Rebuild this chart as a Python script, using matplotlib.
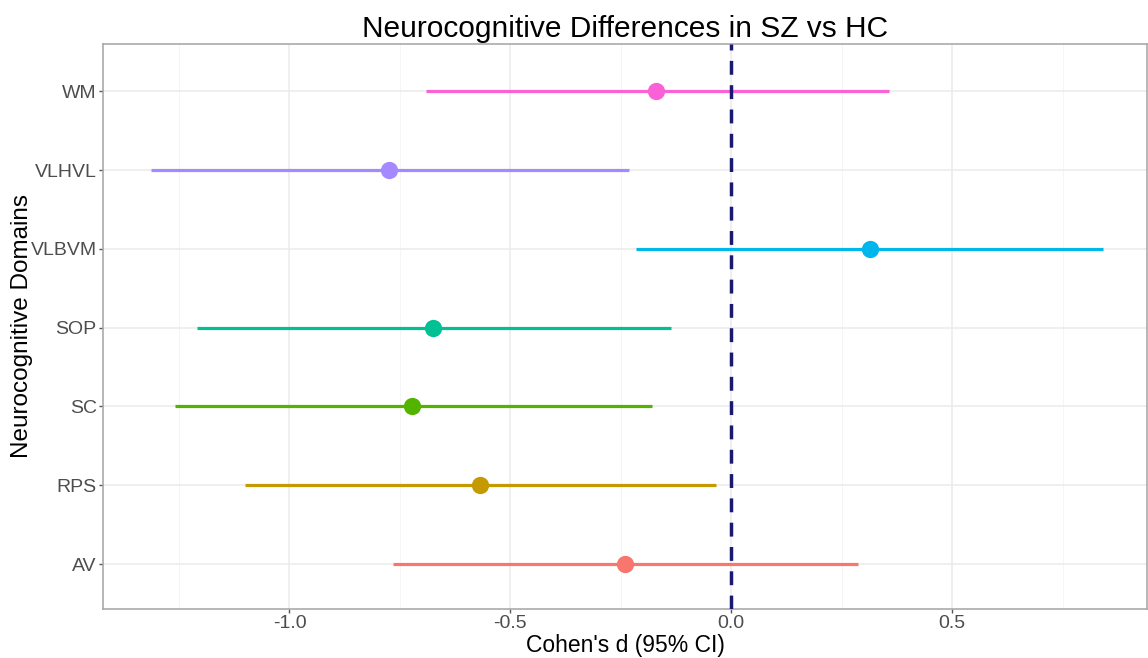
import numpy as np
import matplotlib
matplotlib.use("Agg")
import matplotlib.pyplot as plt
from matplotlib.ticker import MultipleLocator

plt.rcParams['font.family'] = ['Liberation Sans', 'DejaVu Sans']

domains = ["AV", "RPS", "SC", "SOP", "VLBVM", "VLHVL", "WM"]
cohens_d = [-0.240, -0.568, -0.722, -0.676, 0.314, -0.774, -0.170]
ci_low = [-0.765, -1.100, -1.258, -1.210, -0.215, -1.314, -0.692]
ci_high = [0.287, -0.034, -0.179, -0.136, 0.842, -0.231, 0.357]
colors = ["#F8766D", "#C49A00", "#53B400", "#00C094", "#00B6EB", "#A58AFF", "#FB61D7"]

fig = plt.figure(figsize=(11.48, 6.58), dpi=100)
ax = fig.add_axes([103 / 1148, 1 - 609 / 658, (1147 - 103) / 1148, (609 - 44) / 658])

ypos = np.arange(1, len(domains) + 1)
for y, d, lo, hi, c in zip(ypos, cohens_d, ci_low, ci_high, colors):
    ax.plot([lo, hi], [y, y], color=c, lw=2.3, solid_capstyle='butt', zorder=3)
    ax.scatter([d], [y], s=155, color=c, zorder=4, linewidths=0)

ax.axvline(0, color="#191970", lw=2.5, ls=(0, (4, 3)), zorder=5)

ax.set_xlim(-1.422, 0.941)
ax.set_ylim(0.43, 7.6)
ax.set_yticks(ypos)
ax.set_yticklabels(domains)
ax.xaxis.set_minor_locator(MultipleLocator(0.25))
ax.set_xticks([-1.0, -0.5, 0.0, 0.5])
ax.set_xticklabels(["-1.0", "-0.5", "0.0", "0.5"])

ax.grid(True, which='major', color="#EBEBEB", lw=1.1, zorder=0)
ax.grid(True, which='minor', axis='x', color="#F4F4F4", lw=0.6, zorder=0)
ax.set_axisbelow(True)
for s in ax.spines.values():
    s.set_color("#AAAAAA")
    s.set_linewidth(1.2)

ax.tick_params(axis='both', which='major', colors="#555555", labelsize=14, length=3, width=1, pad=1.5)
ax.tick_params(axis='both', which='minor', length=0)
for lab in ax.get_xticklabels() + ax.get_yticklabels():
    lab.set_color("#4D4D4D")

ax.set_xlabel("Cohen's d (95% CI)", fontsize=16.5, labelpad=1)
ax.set_ylabel("Neurocognitive Domains", fontsize=17.5)
ax.yaxis.set_label_coords(-0.0675, 0.5)
ax.set_title("Neurocognitive Differences in SZ vs HC", fontsize=21.5, pad=5)

fig.savefig("out.png", dpi=100)
